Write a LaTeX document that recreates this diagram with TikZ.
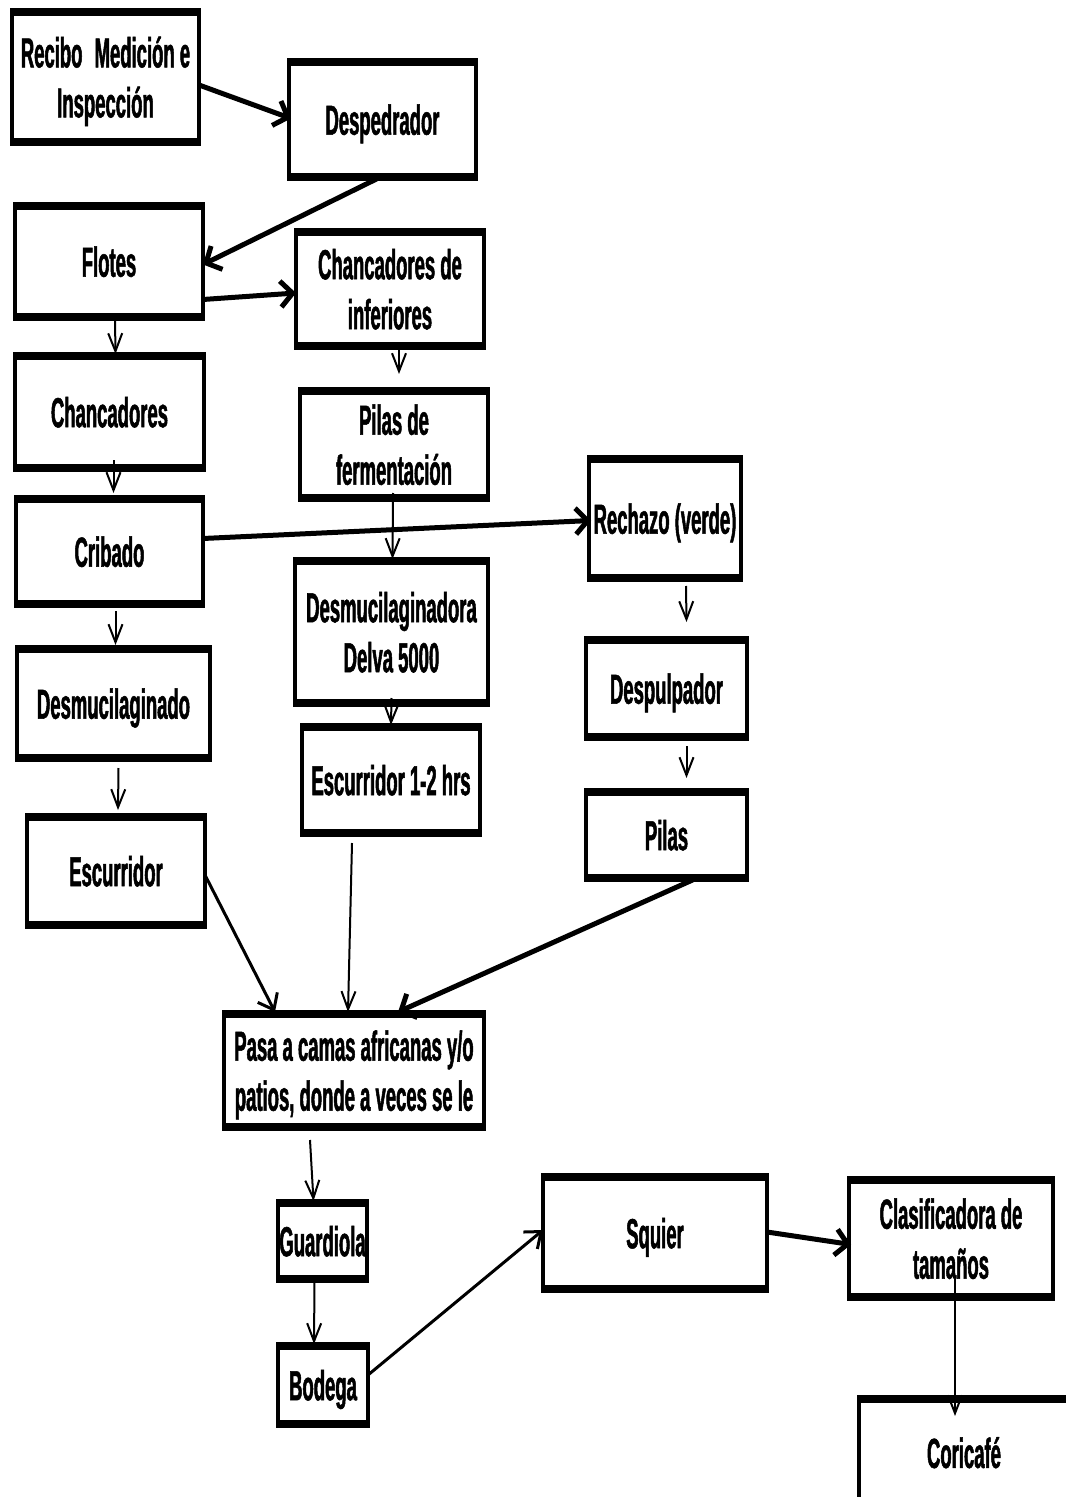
\documentclass[tikz,border=0pt]{standalone}
\usepackage{fontspec}
\newfontfamily\boxfont{Liberation Sans}[FakeStretch=0.44,FakeBold=1.2]
\usetikzlibrary{arrows.meta,calc}
\tikzset{
  box/.style 2 args={draw, line width=2pt, outer sep=0pt, inner sep=0pt,
    minimum width=(#1-4)*0.5pt, minimum height=(#2-4)*0.5pt, align=center,
    text depth=0pt,
    font=\boxfont\bfseries\fontsize{21}{25}\selectfont},
  thin/.style={line width=1pt, -{Straight Barb[length=9pt,width=7pt]}},
  mid/.style={line width=1.5pt, -{Straight Barb[length=7pt,width=11pt]}},
  thick/.style={line width=2.5pt, -{Straight Barb[length=6pt,width=13pt]}},
  band/.style={line width=4pt, line cap=butt}
}
\begin{document}
\begin{tikzpicture}[x=0.5pt,y=-0.5pt]
\useasboundingbox (0,0) rectangle (1065,1497);
\node[box={191}{138}] (rec)  at (105.5,77)   {Recibo\,\ Medición e\\Inspección};
\node[box={191}{123}] (desp) at (382.5,119.5) {Despedrador};
\node[box={192}{119}] (flo)  at (109,261.5)  {Flotes};
\node[box={192}{122}] (chi)  at (390,289)    {Chancadores de\\inferiores};
\node[box={193}{120}] (cha)  at (109.5,412)  {Chancadores};
\node[box={192}{115}] (pf)   at (394,444.5)  {Pilas de\\fermentación};
\node[box={191}{113}] (cri)  at (109.5,551.5) {Cribado};
\node[box={156}{127}] (rech) at (665,518.5)  {Rechazo (verde)};
\node[box={197}{150}] (dmd)  at (391.5,632)  {Desmucilaginadora\\Delva 5000};
\node[box={197}{117}] (dmo)  at (113.5,703.5) {Desmucilaginado};
\node[box={165}{105}] (dsp)  at (666.5,688.5) {Despulpador};
\node[box={182}{114}] (e12)  at (391,780)    {Escurridor 1-2 hrs};
\node[box={165}{94}]  (pil)  at (666.5,835)  {Pilas};
\node[box={182}{116}] (esc)  at (116,871)    {Escurridor};
\node[box={264}{121}] (pasa) at (354,1070.5) {Pasa a camas africanas y/o\\patios, donde a veces se le};
\node[box={93}{84}]   (gua)  at (322.5,1241) {Guardiola};
\node[box={94}{86}]   (bod)  at (323,1385)   {Bodega};
\node[box={228}{120}] (sq)   at (655,1233)   {Squier};
\node[box={208}{125}] (cla)  at (951,1238.5) {Clasificadora de\\tamaños};
\node[box={214}{115}] (cor)  at (964,1452.5) {Coricafé};

\foreach \n in {rec,desp,flo,chi,cha,pf,cri,rech,dmd,dmo,dsp,e12,pil,esc,pasa,gua,bod,sq,cla,cor}{
  \draw[band] ([xshift=-1pt,yshift=-1pt]\n.north west) -- ([xshift=1pt,yshift=-1pt]\n.north east);
  \draw[band] ([xshift=-1pt,yshift=1pt]\n.south west) -- ([xshift=1pt,yshift=1pt]\n.south east);
}

% connectors
\draw[thick] ($(rec.east)+(0,8)$) -- ($(desp.west)+(2,-1)$);
\draw[thick] ($(desp.south)+(-6,0)$) -- ($(flo.east)+(0,3)$);
\draw[thick] ($(flo.east)+(0,38)$) -- ($(chi.west)+(0,4)$);
\draw[thin] ($(flo.south)+(6,0)$) -- ($(cha.north)+(6,0)$);
\draw[thin] ($(chi.south)+(9,0)$) -- ($(pf.north)+(5,-15)$);
\draw[thin] ($(cha.south)+(4,-10)$) -- ($(cri.north)+(4,-4)$);
\draw[thin] ($(pf.south)+(-1,-7)$) -- ($(dmd.north)+(1,0)$);
\draw[thick] ($(cri.east)+(0,-13)$) -- ($(rech.west)+(2,2)$);
\draw[thin] ($(cri.south)+(6,5)$) -- ($(dmo.north)+(2,-2)$);
\draw[thin] ($(dmd.south)+(0,-7)$) -- (e12.north);
\draw[thin] ($(rech.south)+(21,6)$) -- ($(dsp.north)+(20,-16)$);
\draw[thin] ($(dsp.south)+(20,7)$) -- ($(pil.north)+(20,-12)$);
\draw[thin] ($(dmo.south)+(5,8)$) -- ($(esc.north)+(2,-5)$);
\draw[mid] ($(esc.east)+(0,4)$) -- ($(pasa.north)+(-79,0)$);
\draw[thin] ($(e12.south)+(-39,8)$) -- ($(pasa.north)+(-6,0)$);
\draw[thick] ($(pil.south)+(26,0)$) -- ($(pasa.north)+(44,0)$);
\draw[thin] ($(pasa.south)+(-44,11)$) -- ($(gua.north)+(-9,0)$);
\draw[thin] ($(gua.south)+(-8,0)$) -- ($(bod.north)+(-9,0)$);
\draw[mid] ($(bod.east)+(0,-10)$) -- ($(sq.west)+(0,-3)$);
\draw[thick] ($(sq.east)+(0,-1)$) -- ($(cla.west)+(2,6)$);
\draw[thin] ($(cla.center)+(4,40)$) -- ($(cor.north)+(-9,19)$);
\end{tikzpicture}
\end{document}
